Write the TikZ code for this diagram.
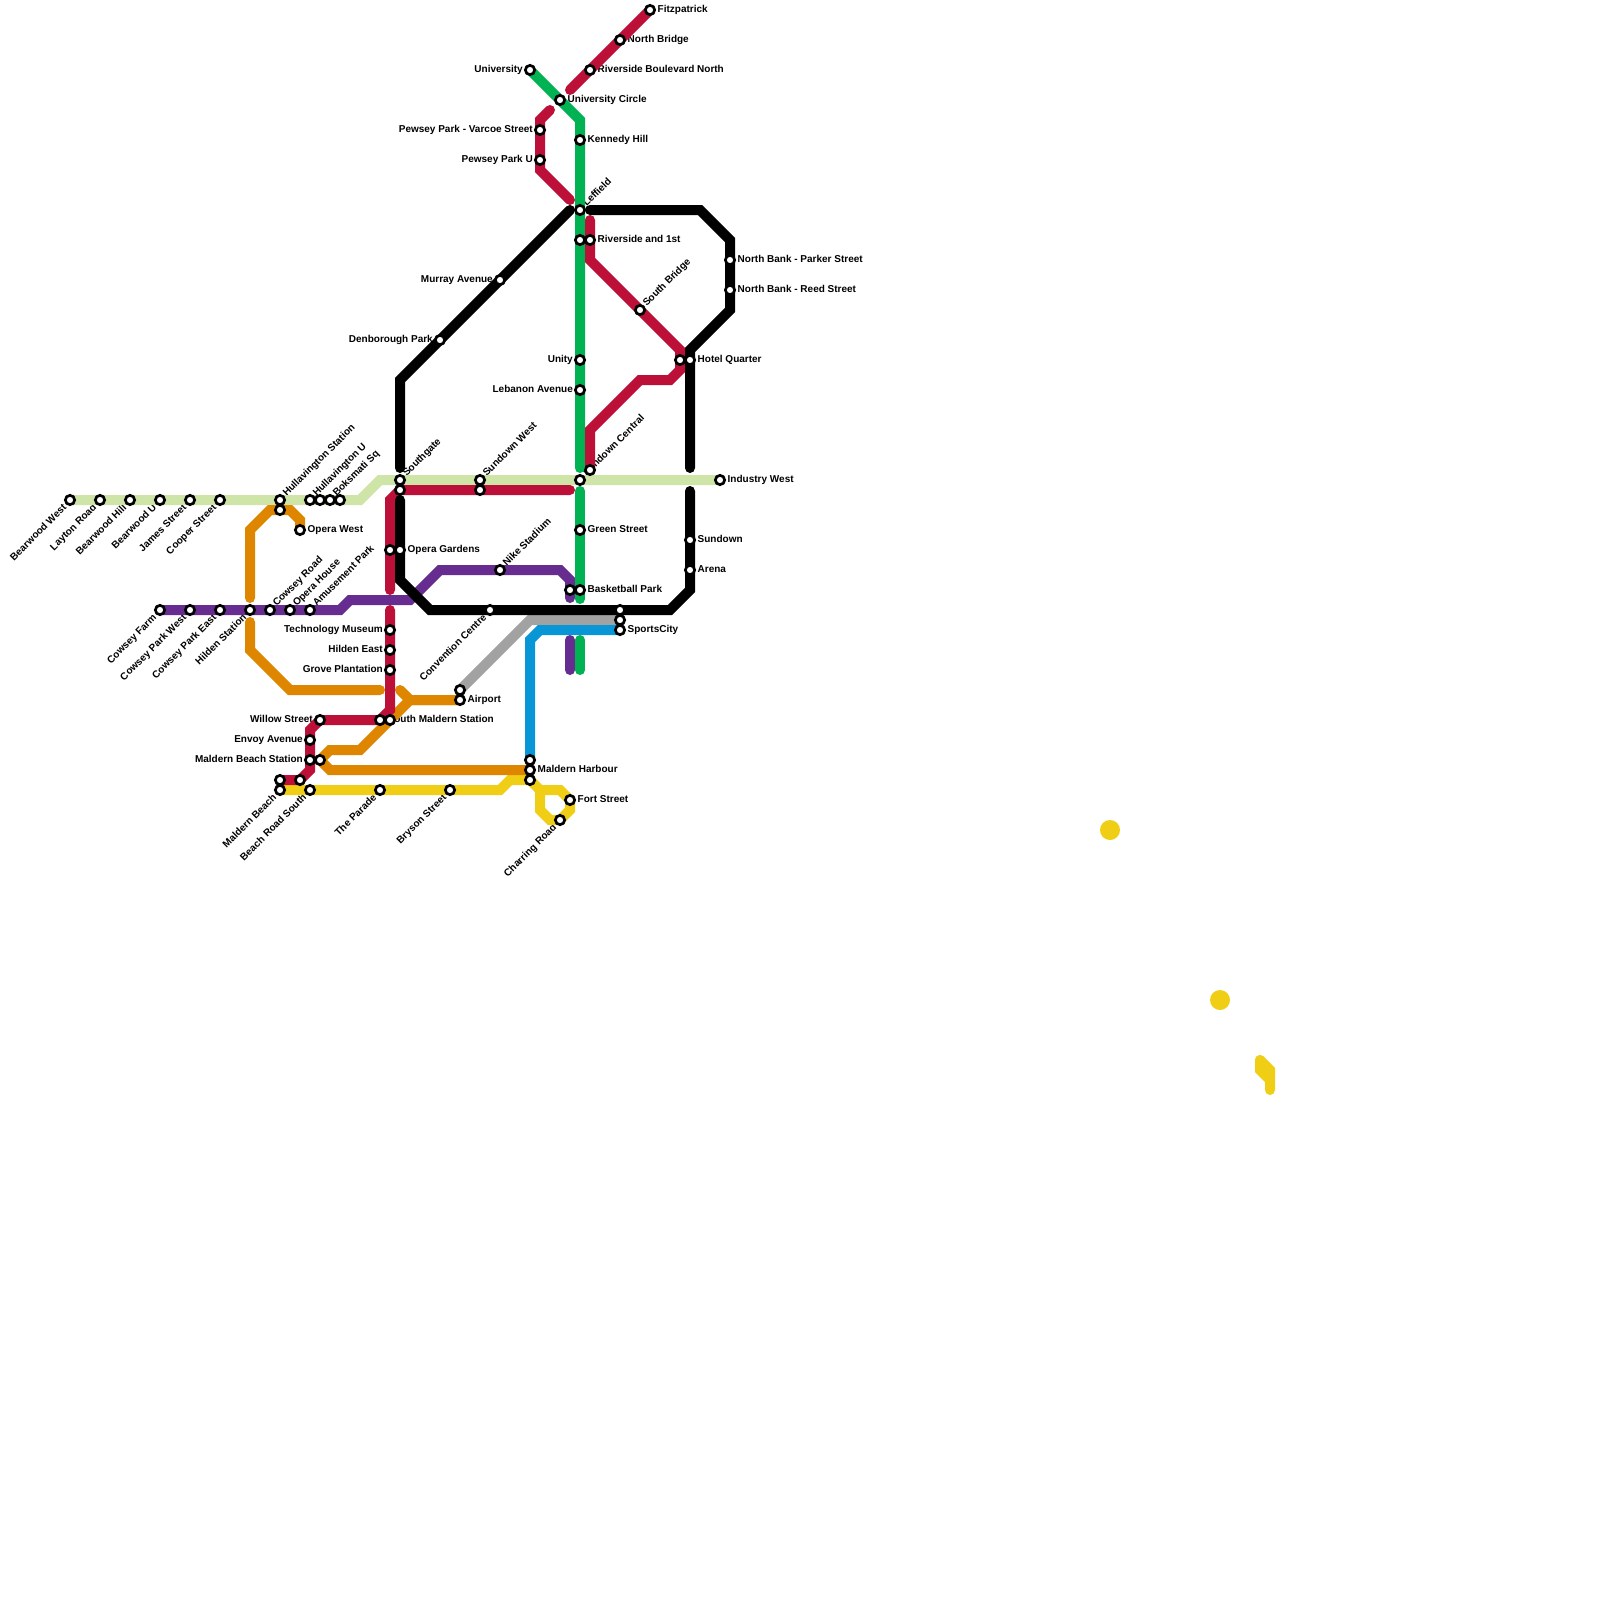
\documentclass[tikz,border=0pt]{standalone}
\usepackage{fontspec}
\setmainfont{Liberation Sans}
\definecolor{linered}{HTML}{BD1038}
\definecolor{lineorange}{HTML}{DF8600}
\definecolor{linepurple}{HTML}{662C90}
\definecolor{linegreen}{HTML}{00B251}
\definecolor{lineblue}{HTML}{0896D7}
\definecolor{linegrey}{HTML}{A2A2A2}
\definecolor{lineyellow}{HTML}{F0CE15}
\definecolor{linepale}{HTML}{CFE4A7}
\tikzset{route/.style={line width=10pt,line cap=round},stop/.style={circle,draw=black,fill=white,line width=2.7pt,inner sep=0pt,minimum size=9.3pt},
lab/.style={inner sep=0pt,text height=8pt,text depth=2pt,font=\fontsize{10}{12}\selectfont\bfseries,text=black},
lr/.style={lab,anchor=west,xshift=7.5pt,yshift=.3pt}, ll/.style={lab,anchor=east,xshift=-7pt,yshift=.3pt},
lu/.style={lab,anchor=west,xshift=4.5pt,yshift=5pt,rotate=45}, ld/.style={lab,anchor=east,xshift=-5pt,yshift=-6pt,rotate=45}}
\newcommand*{\stoplist}{bearwest/70/500/ld/Bearwood West,layton/100/500/ld/Layton Road,bearhill/130/500/ld/Bearwood Hill,bearu/160/500/ld/Bearwood U,james/190/500/ld/James Street,cooper/220/500/ld/Cooper Street,
hullst/280/500/lu/Hullavington Station,hullu/310/500/lu/Hullavington U,boks/330/500/lu/Boksmati Sq,operaw/300/530/lr/Opera West,
cowfarm/160/610/ld/Cowsey Farm,cowparkw/190/610/ld/Cowsey Park West,cowparke/220/610/ld/Cowsey Park East,hilden/250/610/ld/Hilden Station,cowroad/270/610/lu/Cowsey Road,operah/290/610/lu/Opera House,amuse/310/610/lu/Amusement Park,
southgate/400/480/lu/Southgate,sunwest/480/480/lu/Sundown West,operag/400/550/lr/Opera Gardens,nike/500/570/lu/Nike Stadium,convent/490/610/ld/Convention Centre,
techmus/390/630/ll/Technology Museum,hildene/390/650/ll/Hilden East,grove/390/670/ll/Grove Plantation,southmal/380/720/lr/South Maldern Station,willow/320/720/ll/Willow Street,envoy/310/740/ll/Envoy Avenue,malbeachst/310/760/ll/Maldern Beach Station,
malbeach/280/790/ld/Maldern Beach,beachrd/310/790/ld/Beach Road South,parade/380/790/ld/The Parade,bryson/450/790/ld/Bryson Street,charring/560/820/ld/Charring Road,fortst/570/800/lr/Fort Street,malharb/530/770/lr/Maldern Harbour,airport/460/700/lr/Airport,sports/620/630/lr/SportsCity,
basket/580/590/lr/Basketball Park,greenst/580/530/lr/Green Street,suncent/580/480/lu/Sundown Central,lebanon/580/390/ll/Lebanon Avenue,unity/580/360/ll/Unity,leffield/580/210/lu/Leffield,kennedy/580/140/lr/Kennedy Hill,river1st/590/240/lr/Riverside and 1st,
univ/530/70/ll/University,univc/560/100/lr/University Circle,pewvar/540/130/ll/Pewsey Park - Varcoe Street,pewu/540/160/ll/Pewsey Park U,fitz/650/10/lr/Fitzpatrick,northbr/620/40/lr/North Bridge,rivernth/590/70/lr/Riverside Boulevard North,
murray/500/280/ll/Murray Avenue,denb/440/340/ll/Denborough Park,southbr/640/310/lu/South Bridge,parker/730/260/lr/North Bank - Parker Street,reed/730/290/lr/North Bank - Reed Street,hotel/690/360/lr/Hotel Quarter,indwest/720/480/lr/Industry West,sundown/690/540/lr/Sundown,arena/690/570/lr/Arena}
\newcommand*{\barelist}{hullu2/320/500,boks2/340/500,hullst2/280/510,southgate2/400/490,sunwest2/480/490,operag2/390/550,river2/580/240,suncent2/590/470,basket2/570/590,hotel2/680/360,sports1/620/610,sports2/620/620,airport2/460/690,southmal2/390/720,malbeach3/320/760,malbeach2/280/780,beachrd2/300/780,malharb1/530/760,malharb3/530/780}
\begin{document}
\begin{tikzpicture}[x=1pt,y=-1pt]
\useasboundingbox (0,0) rectangle (1600,1600);
\foreach \nm/\x/\y/\sty/\lbl in \stoplist {\coordinate (\nm) at (\x,\y); \node[\sty] (\nm-l) at (\x,\y) {\lbl};}
\foreach \nm/\x/\y in \barelist {\coordinate (\nm) at (\x,\y);}
\draw[route,draw=linepale] (bearwest) -- (360,500) -- (380,480) -- (indwest);
\draw[route,draw=lineyellow] (malbeach) -- (500,790) -- (510,780) -- (malharb3) -- (540,790) -- (560,790) -- (570,800) -- (570,810) -- (560,820) -- (550,820) -- (540,810) -- (540,790);
\draw[route,draw=lineorange] (operaw) -- (300,520) -- (290,510) -- (270,510) -- (250,530) -- (250,598);
\draw[route,draw=lineorange] (250,622) -- (250,650) -- (290,690) -- (380,690);
\draw[route,draw=lineorange] (400,690) -- (410,700) -- (airport);
\draw[route,draw=lineorange] (airport) -- (410,700) -- (360,750) -- (330,750) -- (malbeach3) -- (330,770) -- (malharb);
\draw[route,draw=linepurple] (cowfarm) -- (340,610) -- (350,600) -- (410,600) -- (440,570) -- (560,570) -- (570,580) -- (570,598);
\draw[route,draw=linepurple] (570,640) -- (570,670);
\draw[route,draw=linegrey] (airport2) -- (530,620) -- (sports2);
\draw[route,draw=lineblue] (sports) -- (540,630) -- (530,640) -- (malharb1);
\draw[route,draw=linegreen] (univ) -- (580,120) -- (580,468);
\draw[route,draw=linegreen] (580,491) -- (580,599);
\draw[route,draw=linegreen] (580,640) -- (580,670);
\draw[route,draw=linered] (570,490) -- (southgate2) -- (390,500) -- (390,590);
\draw[route,draw=linered] (390,610) -- (390,710) -- (southmal) -- (willow) -- (310,730) -- (310,770) -- (beachrd2) -- (malbeach2);
\draw[route,draw=linered] (fitz) -- (570,90);
\draw[route,draw=linered] (550,110) -- (540,120) -- (540,170) -- (570,200);
\draw[route,draw=linered] (590,220) -- (590,260) -- (680,350) -- (680,370) -- (670,380) -- (640,380) -- (590,430) -- (suncent2);
\draw[route,draw=black] (570,210) -- (400,380) -- (400,468);
\draw[route,draw=black] (590,210) -- (700,210) -- (730,240) -- (730,310) -- (690,350) -- (690,468);
\draw[route,draw=black] (400,500) -- (400,580) -- (430,610) -- (670,610) -- (690,590) -- (690,491);
\fill[lineyellow] (1110,830) circle (10pt);
\fill[lineyellow] (1220,1000) circle (10pt);
\draw[route,draw=lineyellow] (1260,1060) -- (1270,1070) -- (1270,1090);
\draw[route,draw=lineyellow] (1260,1060) -- (1260,1070) -- (1270,1080);
\foreach \nm/\x/\y/\sty/\lbl in \stoplist {\node[stop] (\nm-s) at (\nm) {};}
\foreach \nm/\x/\y in \barelist {\node[stop] (\nm-s) at (\nm) {};}
\end{tikzpicture}
\end{document}
